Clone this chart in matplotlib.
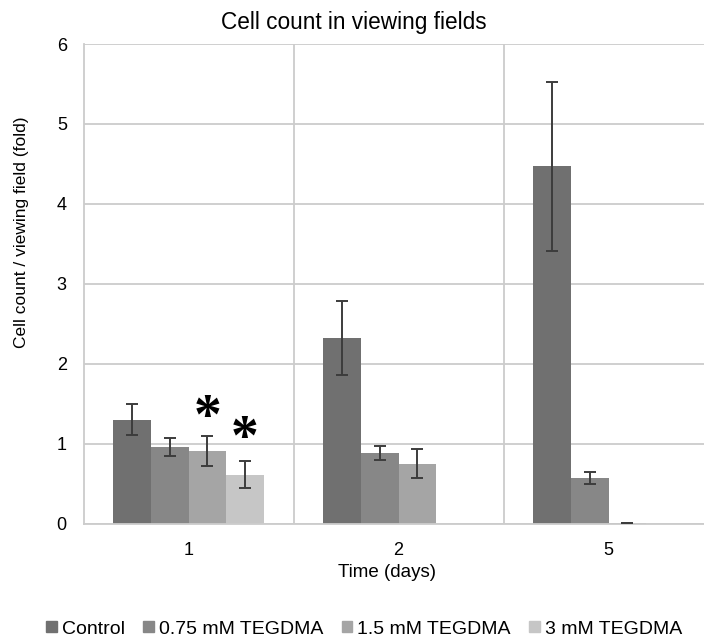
import numpy as np
import matplotlib
matplotlib.use("Agg")
import matplotlib.pyplot as plt
from matplotlib.patches import Rectangle

plt.rcParams['font.family'] = ['Liberation Sans', 'DejaVu Sans']

# Data: fold change of cell count per viewing field
days = ['1', '2', '5']
series_names = ['Control', '0.75 mM TEGDMA', '1.5 mM TEGDMA', '3 mM TEGDMA']
control = [1.30, 2.32, 4.47]
control_err = [0.19, 0.46, 1.06]
tegdma_075 = [0.96, 0.88, 0.57]
tegdma_075_err = [0.11, 0.085, 0.075]
tegdma_15 = [0.91, 0.75, 0.005]
tegdma_15_err = [0.19, 0.185, 0.0]
tegdma_3 = [0.61, np.nan, np.nan]
tegdma_3_err = [0.17, np.nan, np.nan]
y_ticks = [0, 1, 2, 3, 4, 5, 6]
# significance markers: (day index, series index, label height)
sig_marks = [(0, 2, 1.31), (0, 3, 1.04)]

values = [control, tegdma_075, tegdma_15, tegdma_3]
errors = [control_err, tegdma_075_err, tegdma_15_err, tegdma_3_err]
colors = ['#707070', '#878787', '#a5a5a5', '#c6c6c6']

fig = plt.figure(figsize=(7.04, 6.40), dpi=100)
ax = fig.add_axes([83.5 / 704, 1 - 523.5 / 640, 630 / 704, 479.5 / 640])

x = np.arange(len(days))
bw = 0.1795
offsets = (np.arange(4) - 1.5) * bw

for i in range(4):
    ax.bar(x + offsets[i], values[i], width=bw, color=colors[i],
           label=series_names[i], zorder=2)
    ax.errorbar(x + offsets[i], values[i], yerr=errors[i], fmt='none',
                ecolor='#3c3c3c', elinewidth=1.4, capsize=4.3,
                capthick=1.4, zorder=3)

for d, s, h in sig_marks:
    ax.text(x[d] + offsets[s], h, '*', ha='center', va='center',
            fontsize=40, fontweight='bold', family='Liberation Serif',
            color='black', zorder=4)

ax.set_xlim(-0.5, 2.5)
ax.set_ylim(0, 6)
ax.set_yticks(y_ticks)
ax.set_xticks(x)
ax.set_xticklabels(days)
ax.tick_params(axis='both', length=0, labelsize=13, colors='black')
ax.tick_params(axis='x', pad=13)
ax.tick_params(axis='y', pad=12)

grid_color = '#cccccc'
ax.yaxis.grid(True, color=grid_color, linewidth=1.3, zorder=0)
for b in x[:-1] + 0.5:
    ax.axvline(b, color=grid_color, linewidth=1.3, zorder=0)
ax.set_axisbelow(True)
for side in ['top', 'right']:
    ax.spines[side].set_visible(False)
for side in ['left', 'bottom']:
    ax.spines[side].set_color(grid_color)
    ax.spines[side].set_linewidth(1.3)

ax.set_xlabel('Time (days)', fontsize=13.5)
ax.xaxis.label.set_va('baseline')
ax.xaxis.set_label_coords((386.5 - 83.5) / 630, -(577 - 523.5) / 479.5)

ax.set_ylabel('Cell count / viewing field (fold)', fontsize=12.5)
ax.yaxis.label.set_va('center')
ax.yaxis.set_label_coords((22 - 83.5) / 630, (523.5 - 232) / 479.5)

fig.text(353.5 / 704, 1 - 29 / 640, 'Cell count in viewing fields',
         ha='center', va='baseline', fontsize=16.3)

handles = [Rectangle((0, 0), 1, 1, color=c) for c in colors]
fig.legend(handles, series_names, loc='center', ncol=4, frameon=False,
           bbox_to_anchor=(364 / 704, 11 / 640), fontsize=14,
           handlelength=0.55, handleheight=0.55, handletextpad=0.25,
           columnspacing=0.95, borderaxespad=0, borderpad=0)

fig.savefig('out.png', dpi=100)
